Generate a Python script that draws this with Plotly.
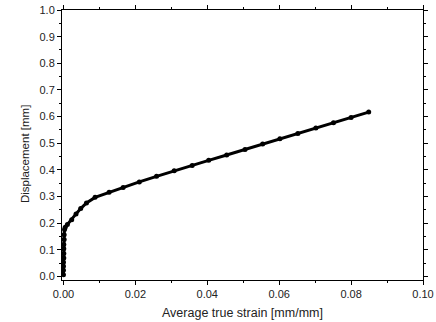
import plotly.graph_objects as go

strain = [0.0000, 0.0000, 0.0000, 0.0000, 0.0001, 0.0001, 0.0001, 0.0001, 0.0002, 0.0002, 0.0003, 0.0005,
          0.0011, 0.0023, 0.0035, 0.0048, 0.0064, 0.0088, 0.0127, 0.0166, 0.0211, 0.0259, 0.0308, 0.0358,
          0.0404, 0.0454, 0.0505, 0.0554, 0.0602, 0.0652, 0.0702, 0.0751, 0.0800, 0.0849]
displacement = [0.007, 0.024, 0.039, 0.054, 0.070, 0.086, 0.104, 0.120, 0.139, 0.157, 0.176, 0.185,
                0.195, 0.213, 0.235, 0.255, 0.276, 0.297, 0.316, 0.334, 0.355, 0.376, 0.397, 0.417,
                0.436, 0.456, 0.477, 0.497, 0.517, 0.537, 0.557, 0.577, 0.597, 0.617]

x_ticks = [0.0, 0.02, 0.04, 0.06, 0.08, 0.10]
x_labels = ["0.00", "0.02", "0.04", "0.06", "0.08", "0.10"]
y_ticks = [0.0, 0.1, 0.2, 0.3, 0.4, 0.5, 0.6, 0.7, 0.8, 0.9, 1.0]
y_labels = ["0.0", "0.1", "0.2", "0.3", "0.4", "0.5", "0.6", "0.7", "0.8", "0.9", "1.0"]

fig = go.Figure()
fig.add_trace(go.Scatter(
    x=strain, y=displacement, mode="lines+markers",
    line=dict(color="black", width=3),
    marker=dict(color="black", size=5),
    showlegend=False,
))

ff = "Liberation Sans, Arial, sans-serif"
fig.update_layout(
    width=436, height=322,
    margin=dict(l=62, r=13, t=10, b=42, autoexpand=False),
    paper_bgcolor="white", plot_bgcolor="white",
    font=dict(family=ff, color="#222"),
    xaxis=dict(
        range=[-0.0004, 0.1], tickvals=x_ticks, ticktext=x_labels,
        ticks="outside", ticklen=4, tickwidth=1, tickcolor="black",
        showline=True, linecolor="black", linewidth=1, mirror="ticks",
        showgrid=False, zeroline=False, tickfont=dict(size=11), automargin=False,
        minor=dict(dtick=0.01, tick0=0, ticks="outside", ticklen=2, tickcolor="black", showgrid=False),
    ),
    yaxis=dict(
        range=[-0.013, 1.0], tickvals=y_ticks, ticktext=y_labels,
        ticks="outside", ticklen=4, tickwidth=1, tickcolor="black",
        showline=True, linecolor="black", linewidth=1, mirror="ticks",
        showgrid=False, zeroline=False, tickfont=dict(size=11), automargin=False,
        minor=dict(dtick=0.05, tick0=0, ticks="outside", ticklen=2, tickcolor="black", showgrid=False),
    ),
    annotations=[
        dict(text="Displacement [mm]", textangle=-90, xref="paper", yref="paper",
             x=-0.102, y=0.467, xanchor="center", yanchor="middle", showarrow=False,
             font=dict(size=11.5, family=ff, color="#222")),
        dict(text="Average true strain [mm/mm]", xref="paper", yref="paper",
             x=0.5, y=-0.122, xanchor="center", yanchor="middle", showarrow=False,
             font=dict(size=12.5, family=ff, color="#222")),
    ],
)

fig.write_html("out.html")
